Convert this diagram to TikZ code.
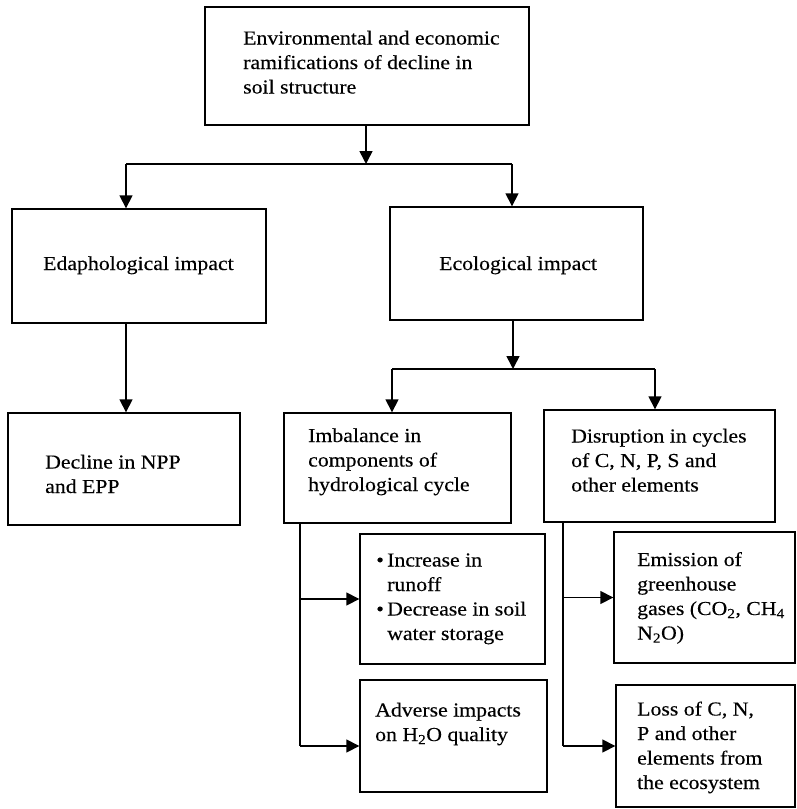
\documentclass[tikz,border=0pt]{standalone}
\usepackage{fontspec}
\setmainfont{Liberation Serif}[FakeStretch=1.1,FakeBold=0.3]
\usetikzlibrary{arrows.meta}
\begin{document}
\begin{tikzpicture}[x=1pt,y=-1pt]
\tikzset{
 box/.style={draw=black, line width=1.4pt, inner sep=0pt},
 txt/.style={anchor=base west, align=left, inner sep=0pt, font=\fontsize{19.8}{24.5}\selectfont},
 conn/.style={line width=1.6pt},
 arr/.style={conn, -{Triangle[width=13pt,length=13pt]}}
}
\useasboundingbox (0,0) rectangle (796,809);
% boxes
\node[box, minimum width=324pt, minimum height=118pt] (top) at (367,66) {};
\node[box, minimum width=254pt, minimum height=114pt] (edaph) at (139,266) {};
\node[box, minimum width=253pt, minimum height=113pt] (eco) at (516.5,263.5) {};
\node[box, minimum width=232pt, minimum height=112pt] (decline) at (124,469) {};
\node[box, minimum width=227pt, minimum height=110pt] (imb) at (397.5,468) {};
\node[box, minimum width=231pt, minimum height=112pt] (dis) at (659.5,466) {};
\node[box, minimum width=185pt, minimum height=130pt] (inc) at (452.5,599) {};
\node[box, minimum width=187pt, minimum height=112pt] (adv) at (453.5,736) {};
\node[box, minimum width=181pt, minimum height=131pt] (emi) at (704.5,597.5) {};
\node[box, minimum width=179pt, minimum height=122pt] (loss) at (705.5,746) {};
% texts (anchor = baseline of the last line)
\node[txt] (ttop) at (243,93.5) {Environmental and economic\\ramifications of decline in\\soil structure};
\node[txt] (tedaph) at (43,270) {Edaphological impact};
\node[txt] (teco) at (439,270) {Ecological impact};
\node[txt] (tdecline) at (45,493) {Decline in NPP\\and EPP};
\node[txt] (timb) at (308,491) {Imbalance in\\components of\\hydrological cycle};
\node[txt] (tdis) at (571,491.5) {Disruption in cycles\\of C, N, P, S and\\other elements};
\node[txt] (tinc) at (387,640) {\llap{\textbullet\,}Increase in\\runoff\\\llap{\textbullet\,}Decrease in soil\\water storage};
\node[txt] (tadv) at (375,741) {Adverse impacts\\on H\textsubscript{2}O quality};
\node[txt] (temi) at (637,639.5) {Emission of\\greenhouse\\gases (CO\textsubscript{2}, CH\textsubscript{4}\\N\textsubscript{2}O)};
\node[txt] (tloss) at (637,789) {Loss of C, N,\\P and other\\elements from\\the ecosystem};
% connectors
\coordinate (s1) at (366,164);
\coordinate (s1l) at (126,164);
\coordinate (s1r) at (512,164);
\draw[arr] (top.south -| s1) -- (s1);
\draw[conn] (s1l) -- (s1r);
\draw[arr] (s1l) -- (s1l |- edaph.north);
\draw[arr] (s1r) -- (s1r |- eco.north);
\draw[arr] (edaph.south -| s1l) -- (s1l |- decline.north);
\coordinate (s2) at (513,369);
\coordinate (s2l) at (392,369);
\coordinate (s2r) at (655,369);
\draw[arr] (eco.south -| s2) -- (s2);
\draw[conn] (s2l) -- (s2r);
\draw[arr] (s2l) -- (s2l |- imb.north);
\draw[arr] (s2r) -- (s2r |- dis.north);
\coordinate (v1) at (300,746);
\draw[conn] (imb.south -| v1) -- (v1);
\draw[arr] (inc.west -| v1) -- (inc.west);
\draw[arr] (v1) -- (v1 -| adv.west);
\coordinate (v2) at (563,746);
\draw[conn] (dis.south -| v2) -- (v2);
\draw[arr] (emi.west -| v2) -- (emi.west);
\draw[arr] (v2) -- (v2 -| loss.west);
\end{tikzpicture}
\end{document}
